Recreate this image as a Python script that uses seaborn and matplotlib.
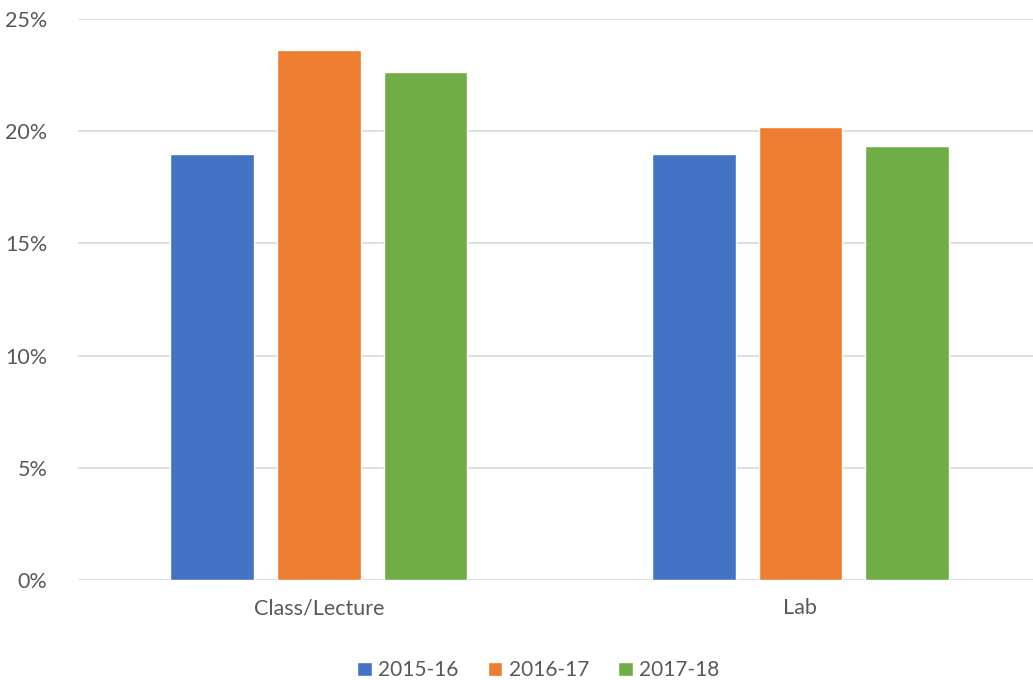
import pandas as pd
import numpy as np
import matplotlib
matplotlib.use('Agg')
import matplotlib.pyplot as plt
import seaborn as sns
from matplotlib.ticker import PercentFormatter

#chart data
categories = ['Class/Lecture', 'Lab']
years = ['2015-16', '2016-17', '2017-18']
values_2015 = [19.0, 19.0]
values_2016 = [23.6, 20.2]
values_2017 = [22.65, 19.35]

colors = ['#4472C4', '#ED7D31', '#70AD47']

#long format table for seaborn
df = pd.DataFrame({
    'category': categories * 3,
    'year': [years[0]] * 2 + [years[1]] * 2 + [years[2]] * 2,
    'value': values_2015 + values_2016 + values_2017,
})

sns.set_style('white')
plt.rcParams['font.family'] = ['Lato', 'DejaVu Sans']

fig = plt.figure(figsize=(10.33, 6.8), dpi=100)
ax = fig.add_axes([78/1033, 100/680, 955/1033, 561/680])

sns.barplot(data=df, x='category', y='value', hue='year', palette=colors,
            width=0.664, gap=0.216, ax=ax, legend=True, saturation=1)

ax.set_ylim(0, 25)
ax.set_xlim(-0.5, 1.483)
ax.set_yticks([0, 5, 10, 15, 20, 25])
ax.yaxis.set_major_formatter(PercentFormatter(decimals=0))
ax.grid(axis='y', color='#D9D9D9', linewidth=1.2)
ax.set_axisbelow(True)
for s in ax.spines.values():
    s.set_visible(False)
ax.set_xlabel('')
ax.set_ylabel('')
ax.tick_params(axis='both', length=0, labelsize=15.5, labelcolor='#595959')
ax.tick_params(axis='y', pad=22)
ax.tick_params(axis='x', pad=13)

leg = ax.legend(loc='upper center', bbox_to_anchor=(0.482, -0.11), ncol=3,
                frameon=False, fontsize=15, handlelength=0.7, handleheight=0.7,
                handletextpad=0.3, columnspacing=1.4)
for t in leg.get_texts():
    t.set_color('#595959')

plt.savefig('out.png', dpi=100)
